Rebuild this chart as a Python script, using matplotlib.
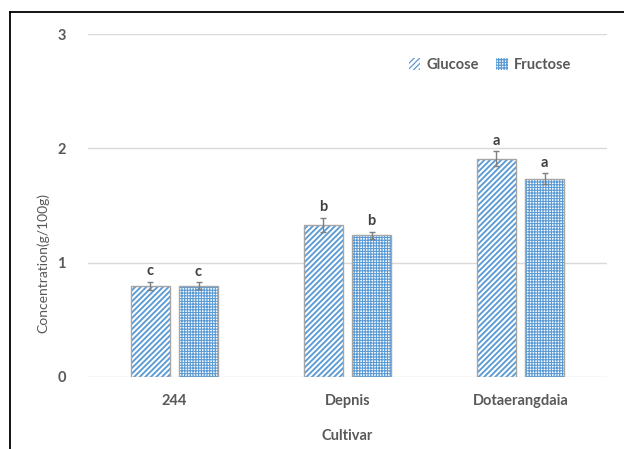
import numpy as np
import matplotlib
matplotlib.use("Agg")
import matplotlib.pyplot as plt
from matplotlib.lines import Line2D
from matplotlib.patches import Patch

# Sugar content per cultivar (g/100g)
cultivars = ["244", "Depnis", "Dotaerangdaia"]
glucose = [0.80, 1.33, 1.91]
fructose = [0.80, 1.24, 1.735]
glucose_err = [0.035, 0.063, 0.066]
fructose_err = [0.03, 0.03, 0.045]
glucose_letters = ["c", "b", "a"]
fructose_letters = ["c", "b", "a"]
y_ticks = [0, 1, 2, 3]

BLUE = "#5B9BD5"
EDGE = "#A6A6A6"
TEXT = "#595959"
GRID = "#D9D9D9"

GLU_HATCH = "//////"
FRU_HATCH = "++++++"

plt.rcParams["font.family"] = ["Lato", "DejaVu Sans"]

fig = plt.figure(figsize=(6.24, 4.49), dpi=100)
W, H = 624, 449
ax = fig.add_axes([88 / W, 1 - 377 / H, (607 - 88) / W, (377 - 34) / H])

x = np.arange(len(cultivars))
width = 0.225
off = 0.139


def draw_bars(xpos, vals, errs, letters, hatch, hlw):
    # hatch layer, then a plain outline on top
    bars = ax.bar(xpos, vals, width, color="white", edgecolor=BLUE, hatch=hatch,
                  linewidth=0, zorder=2)
    for b in bars:
        if hasattr(b, "set_hatch_linewidth"):
            b.set_hatch_linewidth(hlw)
    ax.bar(xpos, vals, width, fill=False, edgecolor=EDGE, linewidth=1.0, zorder=3)
    ax.errorbar(xpos, vals, yerr=errs, fmt="none", ecolor="#7F7F7F",
                elinewidth=1.0, capsize=2.5, capthick=1.0, zorder=4)
    for xi, v, e, lab in zip(xpos, vals, errs, letters):
        ax.text(xi, v + e + 0.03, lab, ha="center", va="bottom",
                fontsize=10.5, fontweight="bold", color="#404040")


draw_bars(x - off, glucose, glucose_err, glucose_letters, GLU_HATCH, 1.35)
draw_bars(x + off, fructose, fructose_err, fructose_letters, FRU_HATCH, 0.8)

ax.set_xlim(-0.5, len(cultivars) - 0.5)
ax.set_ylim(0, 3)
ax.set_yticks(y_ticks)
ax.set_xticks(x)
ax.set_xticklabels(cultivars)
ax.yaxis.grid(True, color=GRID, linewidth=1.0, zorder=0)
ax.set_axisbelow(True)
for s in ax.spines.values():
    s.set_visible(False)
ax.tick_params(length=0, labelsize=10.5, labelcolor=TEXT)
ax.tick_params(axis="y", pad=16)
ax.tick_params(axis="x", pad=12)
for lab in ax.get_xticklabels() + ax.get_yticklabels():
    lab.set_fontweight("bold")

fig.text(43 / W, 1 - 263 / H, "Concentration(g/100g)", rotation=90,
         ha="center", va="center", fontsize=10, color=TEXT)
fig.text(347 / W, 1 - 436 / H, "Cultivar", ha="center", va="center",
         fontsize=10.5, fontweight="bold", color=TEXT)

handles = [
    Patch(facecolor="white", edgecolor=BLUE, hatch=GLU_HATCH, linewidth=0),
    Patch(facecolor="white", edgecolor=BLUE, hatch=FRU_HATCH, linewidth=0),
]
leg = ax.legend(handles, ["Glucose", "Fructose"], loc="center",
                bbox_to_anchor=(490 / W, 1 - 65 / H), bbox_transform=fig.transFigure,
                ncol=2, frameon=False, handlelength=0.8, handleheight=0.8,
                handletextpad=0.4, columnspacing=1.2,
                prop={"size": 10.5, "weight": "bold"})
for t in leg.get_texts():
    t.set_color(TEXT)
for p in leg.get_patches():
    if hasattr(p, "set_hatch_linewidth"):
        p.set_hatch_linewidth(0.9)

# outer frame lines on the left and top
fig.add_artist(Line2D([10 / W, 10 / W], [0, 1 - 12 / H], transform=fig.transFigure,
                      color="black", linewidth=1.3))
fig.add_artist(Line2D([10 / W, 1], [1 - 12 / H, 1 - 12 / H], transform=fig.transFigure,
                      color="black", linewidth=1.3))

fig.savefig("out.png", dpi=100)
